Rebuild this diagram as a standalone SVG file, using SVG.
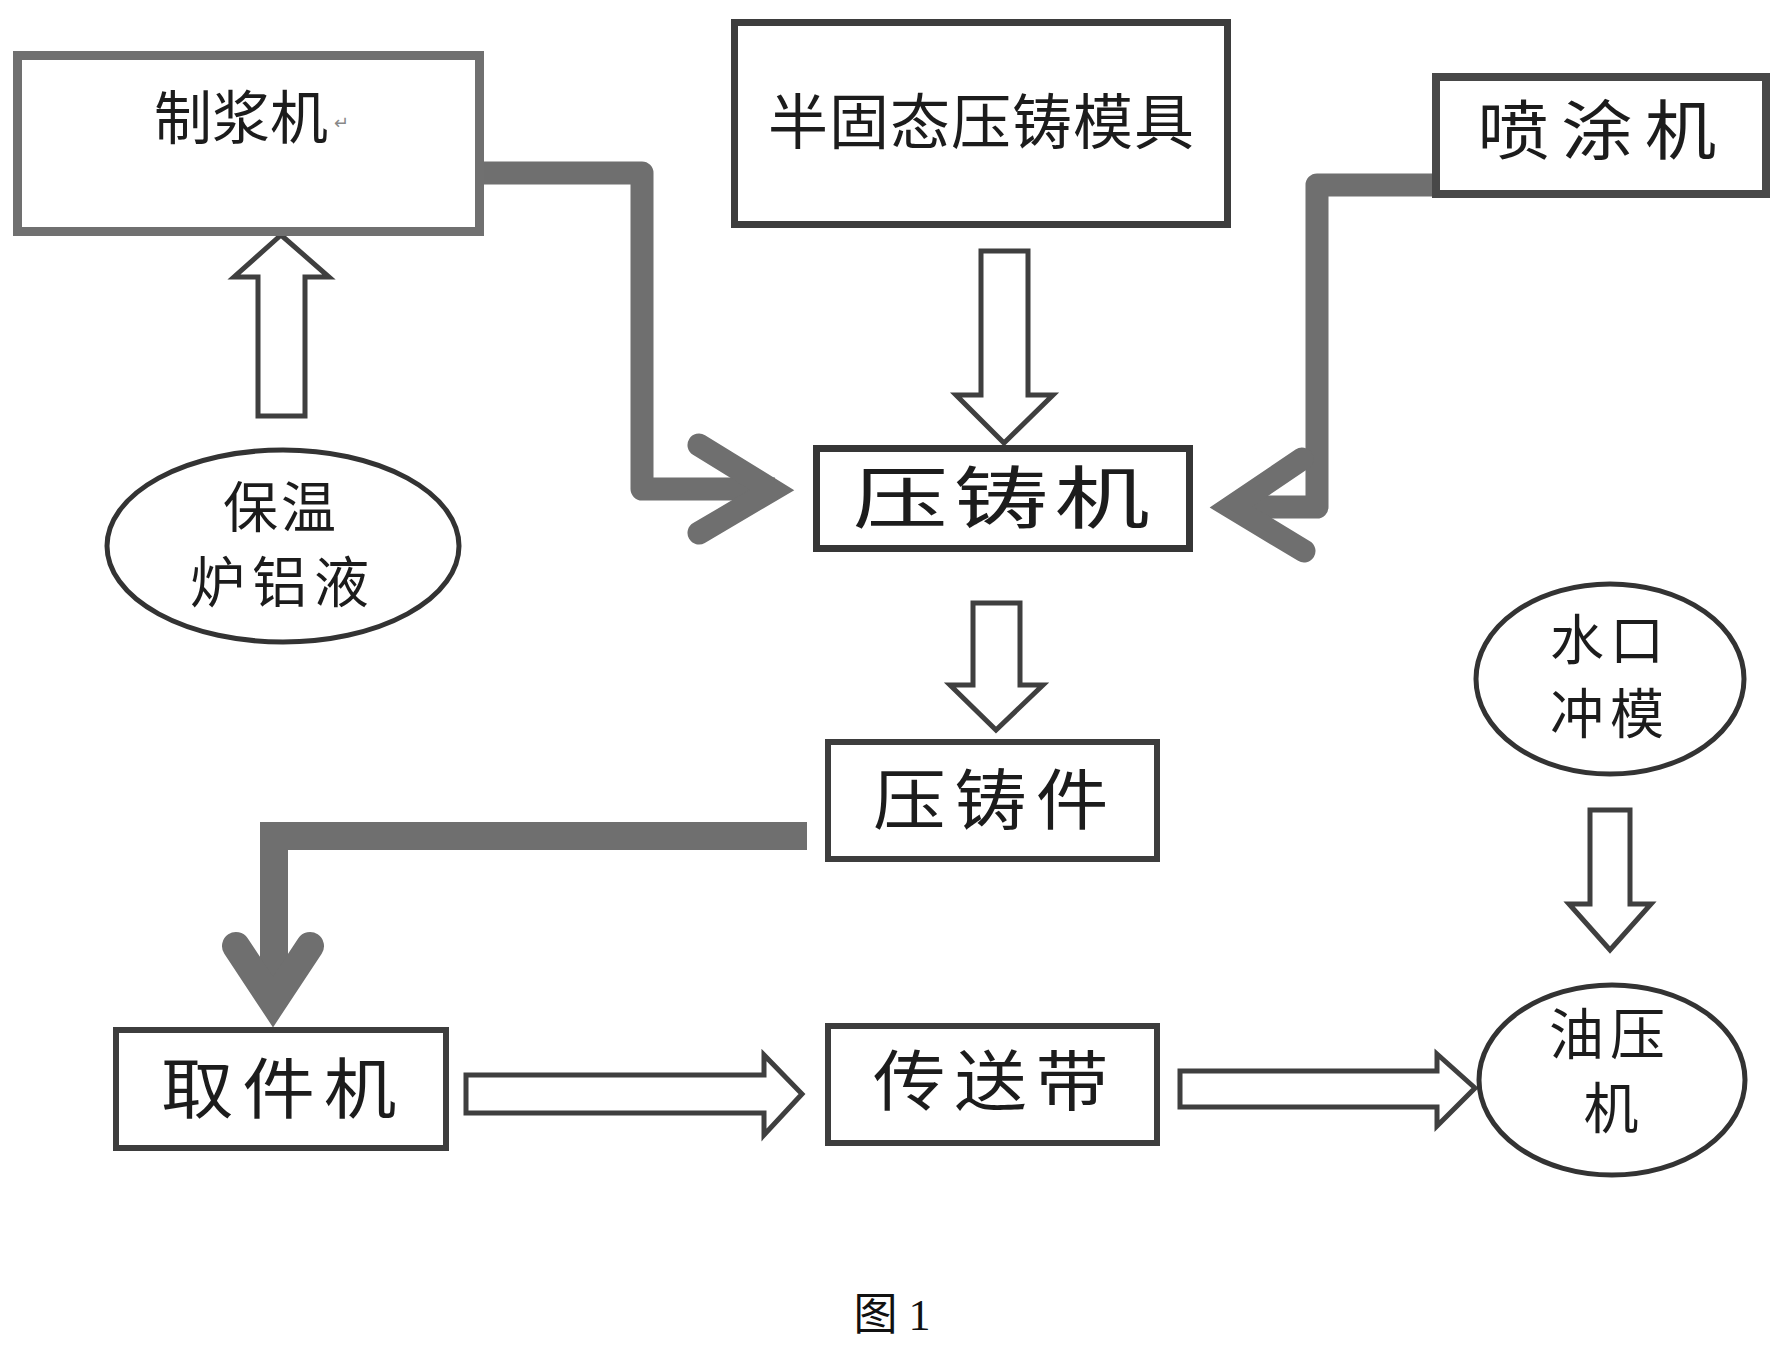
<svg xmlns="http://www.w3.org/2000/svg" width="1782" height="1371" viewBox="0 0 1782 1371">
<style>
.bg{fill:#ffffff}
.box{fill:#ffffff;stroke:#3d3d3d;stroke-width:7}
.ell{fill:#ffffff;stroke:#333333;stroke-width:5}
.t{font-family:"Noto Sans CJK SC","Noto Sans CJK TC",sans-serif;fill:#1c1c1c;text-anchor:middle;dominant-baseline:central}
.hollow{fill:#ffffff;stroke:#3f3f3f;stroke-width:5;stroke-linejoin:miter}
.thick{fill:none;stroke:#6f6f6f}
.chev{fill:none;stroke:#6f6f6f;stroke-linecap:round;stroke-linejoin:miter;stroke-miterlimit:10}
.cap{font-family:"Liberation Serif","Noto Sans CJK SC",serif;fill:#111111;text-anchor:middle;font-size:44px}
</style>
<rect class="bg" x="0" y="0" width="1782" height="1371"/>

<g id="connectors">
  <!-- 保温炉铝液 -> 制浆机 -->
  <polygon class="hollow" points="281,235 329,277 305,277 305,416 258,416 258,277 234,277"/>
  <!-- 半固态压铸模具 -> 压铸机 -->
  <polygon class="hollow" points="981,251 1028,251 1028,395 1053,395 1004,443 956,395 981,395"/>
  <!-- 压铸机 -> 压铸件 -->
  <polygon class="hollow" points="973,603 1020,603 1020,685 1043,685 996,730 950,685 973,685"/>
  <!-- 水口冲模 -> 油压机 -->
  <polygon class="hollow" points="1590,810 1630,810 1630,904 1651,904 1610,950 1569,904 1590,904"/>
  <!-- 取件机 -> 传送带 -->
  <polygon class="hollow" points="466,1075 764,1075 764,1055 802,1094 764,1135 764,1113 466,1113"/>
  <!-- 传送带 -> 油压机 -->
  <polygon class="hollow" points="1180,1071 1437,1071 1437,1054 1475,1088 1437,1126 1437,1107 1180,1107"/>

  <!-- 制浆机 -> 压铸机 -->
  <path class="thick" stroke-width="23" stroke-linejoin="round" d="M484,173 H642 V489 H775"/>
  <path class="chev" stroke-width="23" d="M699,445 L772,490 L699,533"/>

  <!-- 喷涂机 -> 压铸机 -->
  <path class="thick" stroke-width="23" stroke-linejoin="round" d="M1432,185 H1317 V507 H1232"/>
  <path class="chev" stroke-width="23" d="M1302,459 L1231,507 L1304,551"/>

  <!-- 压铸件 -> 取件机 -->
  <path class="thick" stroke-width="28" stroke-linejoin="miter" d="M807,836 H274 V1005"/>
  <path class="chev" stroke-width="28" d="M236,946 L273,1002 L310,946"/>
</g>

<g id="n-zhijiangji">
  <rect class="box" x="17.5" y="55.5" width="462" height="176" style="stroke:#707070;stroke-width:9"/>
  <text class="t" x="241" y="114" font-size="58">制浆机</text>
  <text x="341" y="121" font-family="Noto Sans CJK SC, sans-serif" font-size="18" fill="#888888" text-anchor="middle" dominant-baseline="central">↵</text>
</g>

<g id="n-mold">
  <rect class="box" x="734.5" y="22.5" width="493" height="202"/>
  <text class="t" x="981.5" y="117" font-size="60" letter-spacing="1">半固态压铸模具</text>
</g>

<g id="n-spray">
  <rect class="box" x="1436" y="77" width="330" height="117" style="stroke:#484848;stroke-width:8"/>
  <text class="t" font-size="65" letter-spacing="11" transform="translate(1603,126) scale(1.1,1)">喷涂机</text>
</g>

<g id="n-diecaster">
  <rect class="box" x="816.5" y="448.5" width="373" height="100" style="stroke:#363636"/>
  <text class="t" font-size="68" letter-spacing="4" transform="translate(1004,493) scale(1.4,1)">压铸机</text>
</g>

<g id="n-casting">
  <rect class="box" x="828" y="742" width="329" height="117" style="stroke-width:6"/>
  <text class="t" font-size="66" letter-spacing="8" transform="translate(995,795) scale(1.1,1)">压铸件</text>
</g>

<g id="n-picker">
  <rect class="box" x="116" y="1030" width="330" height="118" style="stroke-width:6"/>
  <text class="t" font-size="66" letter-spacing="8" transform="translate(283,1084) scale(1.1,1)">取件机</text>
</g>

<g id="n-conveyor">
  <rect class="box" x="828" y="1026" width="329" height="117" style="stroke-width:6"/>
  <text class="t" font-size="66" letter-spacing="8" transform="translate(995,1076) scale(1.1,1)">传送带</text>
</g>

<g id="n-furnace">
  <ellipse class="ell" cx="283" cy="546" rx="176" ry="96"/>
  <text class="t" x="281" y="503" font-size="55" letter-spacing="3">保温</text>
  <text class="t" x="283" y="578" font-size="55" letter-spacing="7">炉铝液</text>
</g>

<g id="n-washer">
  <ellipse class="ell" cx="1610" cy="679" rx="134" ry="95"/>
  <text class="t" x="1610" y="636" font-size="54" letter-spacing="6">水口</text>
  <text class="t" x="1610" y="710" font-size="54" letter-spacing="6">冲模</text>
</g>

<g id="n-press">
  <ellipse class="ell" cx="1612" cy="1080" rx="133" ry="95"/>
  <text class="t" x="1610" y="1030" font-size="55" letter-spacing="6">油压</text>
  <text class="t" x="1611" y="1104" font-size="55">机</text>
</g>

<text class="cap" x="892" y="1330">图 1</text>
</svg>
